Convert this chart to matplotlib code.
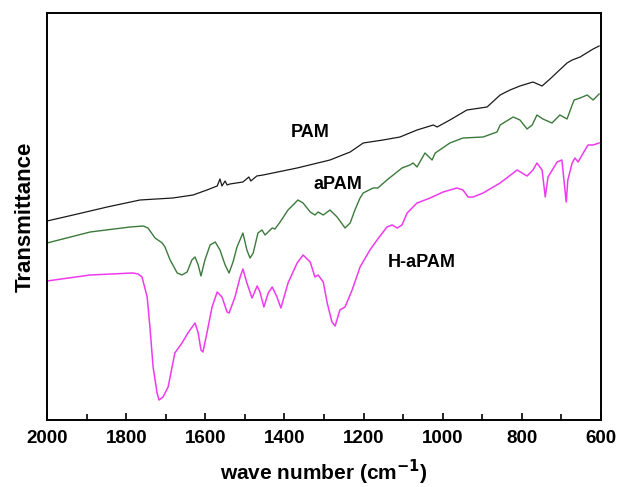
import matplotlib
matplotlib.use("Agg")
import matplotlib.pyplot as plt
from matplotlib.ticker import MultipleLocator

plt.rcParams['font.family'] = ['Liberation Sans', 'DejaVu Sans']

# 曲线数据（波数 cm-1, 相对透过率，任意单位）
pam_wn = [2000, 1934, 1848, 1765, 1682, 1631, 1596, 1570, 1563, 1558, 1550, 1545,
          1538, 1505, 1490, 1485, 1470, 1454, 1368, 1285, 1234, 1201, 1151, 1108,
          1065, 1024, 1014, 982, 939, 888, 855, 830, 805, 772, 749, 729, 686, 673,
          653, 620, 605]
pam_t = [199, 205, 213, 220, 222, 225, 230, 234, 241, 234, 239, 235,
         236, 238, 243, 239, 244, 245, 252, 260, 268, 277, 280, 283,
         290, 295, 293, 300, 310, 313, 325, 330, 334, 338, 334, 341, 357, 360,
         363, 371, 374]

apam_wn = [2000, 1891, 1790, 1757, 1745, 1727, 1709, 1702, 1689, 1671, 1659, 1646,
           1634, 1626, 1618, 1611, 1601, 1588, 1575, 1563, 1550, 1540, 1530, 1520,
           1505, 1495, 1487, 1479, 1467, 1457, 1449, 1431, 1424, 1411, 1391, 1366,
           1353, 1335, 1323, 1315, 1302, 1285, 1267, 1247, 1234, 1222, 1209, 1201,
           1176, 1164, 1141, 1103, 1083, 1075, 1065, 1045, 1027, 1019, 982, 949,
           898, 863, 855, 822, 805, 787, 774, 762, 747, 724, 704, 686, 673, 668,
           653, 635, 620, 605]
apam_t = [177, 188, 193, 194, 192, 182, 177, 173, 160, 147, 145, 148,
          160, 163, 155, 144, 160, 175, 178, 170, 155, 147, 158, 173,
          187, 170, 162, 167, 187, 190, 185, 192, 191, 198, 210, 220,
          217, 208, 205, 208, 205, 210, 203, 192, 197, 210, 222, 227,
          232, 232, 240, 252, 255, 257, 253, 267, 260, 267, 277, 282,
          283, 288, 295, 303, 300, 291, 295, 305, 301, 297, 305, 301, 315, 320,
          322, 325, 320, 326]

hapam_wn = [2000, 1891, 1783, 1770, 1760, 1747, 1740, 1732, 1722, 1717, 1707, 1694,
            1684, 1677, 1659, 1644, 1626, 1618, 1611, 1606, 1596, 1583, 1570, 1558,
            1545, 1540, 1525, 1512, 1505, 1495, 1482, 1469, 1462, 1452, 1441, 1431,
            1419, 1409, 1391, 1368, 1353, 1335, 1323, 1315, 1302, 1292, 1280, 1272,
            1260, 1247, 1229, 1209, 1184, 1166, 1141, 1128, 1115, 1103, 1090, 1065,
            1032, 999, 964, 949, 936, 923, 898, 855, 812, 787, 772, 762, 749, 741,
            734, 711, 699, 688, 684, 673, 666, 658, 645, 633, 620, 605]
hapam_t = [139, 145, 147, 146, 143, 123, 93, 53, 27, 20, 23, 33,
           53, 67, 77, 87, 97, 87, 70, 68, 87, 113, 128, 123,
           108, 107, 123, 143, 151, 137, 122, 134, 128, 113, 127, 133,
           123, 112, 137, 157, 165, 158, 143, 145, 138, 117, 98, 94,
           110, 113, 130, 153, 170, 180, 193, 195, 192, 195, 207, 217,
           222, 228, 232, 230, 223, 223, 227, 237, 250, 244, 250, 257, 250, 223,
           243, 258, 260, 218, 240, 257, 262, 258, 267, 275, 275, 277]

fig = plt.figure(figsize=(6.19, 4.87), dpi=100)
ax = fig.add_axes([0.076, 0.1376, 0.895, 0.8357])

ax.plot(pam_wn, pam_t, color="#1a1a1a", lw=0.9)
ax.plot(apam_wn, apam_t, color="#3b7a3b", lw=1.0)
ax.plot(hapam_wn, hapam_t, color="#ee3aee", lw=1.1)

ax.text(1335, 287, "PAM", fontsize=13, fontweight="bold", ha="center", va="center")
ax.text(1265, 235, "aPAM", fontsize=13, fontweight="bold", ha="center", va="center")
ax.text(1052, 157, "H-aPAM", fontsize=13, fontweight="bold", ha="center", va="center")

ax.set_xlim(2000, 600)
ax.set_ylim(0, 407)
ax.xaxis.set_major_locator(MultipleLocator(200))
ax.xaxis.set_minor_locator(MultipleLocator(100))
ax.tick_params(axis="x", which="major", direction="in", length=5, width=1.2,
               labelsize=13.5, pad=7)
ax.tick_params(axis="x", which="minor", direction="in", length=4, width=1.2)
ax.set_yticks([])
for lbl in ax.get_xticklabels():
    lbl.set_fontweight("bold")
for sp in ax.spines.values():
    sp.set_linewidth(1.4)

ax.set_xlabel("wave number (cm$^{\\mathbf{-1}}$)", fontsize=15, fontweight="bold", labelpad=8)
ax.set_ylabel("Transmittance", fontsize=16, fontweight="bold", labelpad=8)

fig.savefig("out.png", dpi=100)
